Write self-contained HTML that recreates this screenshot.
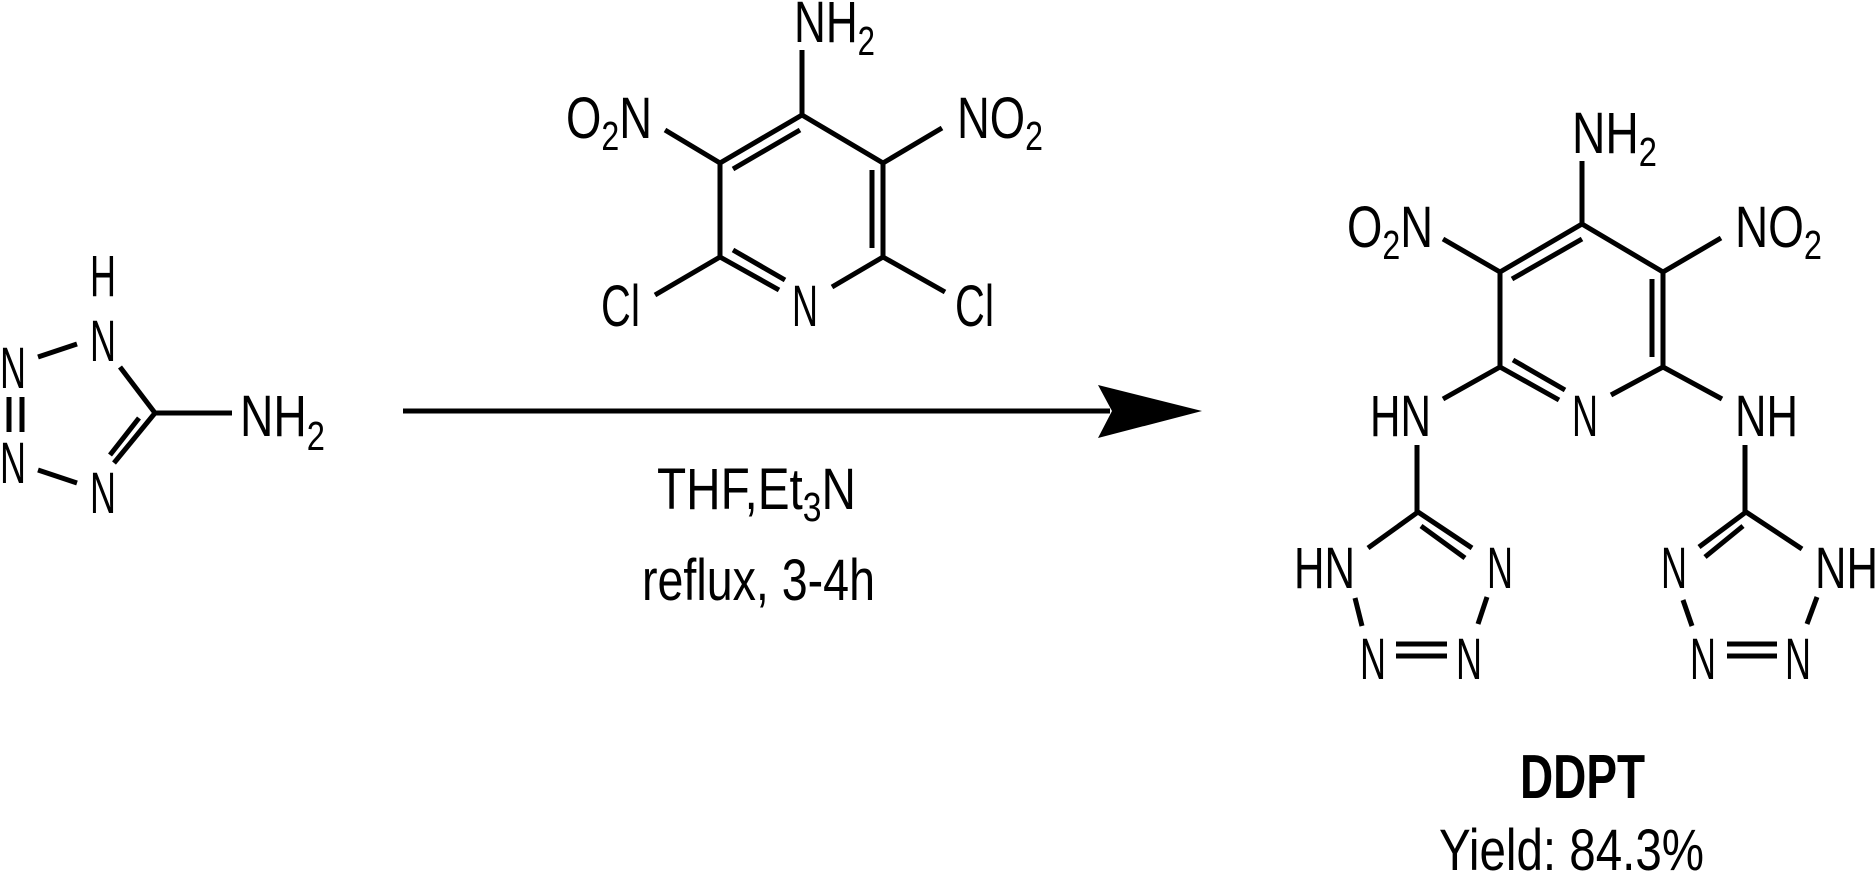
<!DOCTYPE html>
<html><head><meta charset="utf-8"><style>
html,body{margin:0;padding:0;background:#fff;}
svg{display:block;}
text{font-family:"Liberation Sans",Arial,sans-serif;font-size:58px;fill:#000;}
.s{font-size:41px;}
</style></head><body>
<svg width="1875" height="874" viewBox="0 0 1875 874" xmlns="http://www.w3.org/2000/svg">
<g stroke="#000" stroke-width="5" fill="none" stroke-linecap="butt">
<line x1="120" y1="367" x2="155" y2="413"/>
<line x1="155" y1="413" x2="114" y2="463"/>
<line x1="139" y1="418" x2="110" y2="455"/>
<line x1="155" y1="413" x2="232" y2="413"/>
<line x1="38" y1="357" x2="77" y2="344"/>
<line x1="38" y1="470" x2="77" y2="483"/>
<line x1="9" y1="397" x2="9" y2="432"/>
<line x1="22" y1="397" x2="22" y2="432"/>
<line x1="403" y1="411" x2="1110" y2="411"/>
<line x1="802" y1="50" x2="802" y2="115"/>
<line x1="720" y1="163" x2="802" y2="115"/>
<line x1="733" y1="169" x2="800" y2="130"/>
<line x1="802" y1="115" x2="883" y2="163"/>
<line x1="720" y1="163" x2="720" y2="257"/>
<line x1="883" y1="163" x2="883" y2="257"/>
<line x1="872" y1="170" x2="872" y2="248"/>
<line x1="720" y1="257" x2="779" y2="290"/>
<line x1="733" y1="250" x2="785" y2="280"/>
<line x1="832" y1="287" x2="883" y2="257"/>
<line x1="720" y1="257" x2="655" y2="295"/>
<line x1="883" y1="257" x2="945" y2="292"/>
<line x1="720" y1="163" x2="665" y2="130"/>
<line x1="883" y1="163" x2="942" y2="128"/>
<line x1="1582" y1="161" x2="1582" y2="224"/>
<line x1="1500" y1="272" x2="1582" y2="224"/>
<line x1="1512" y1="279" x2="1582" y2="239"/>
<line x1="1582" y1="224" x2="1663" y2="272"/>
<line x1="1500" y1="272" x2="1500" y2="367"/>
<line x1="1663" y1="272" x2="1663" y2="367"/>
<line x1="1652" y1="279" x2="1652" y2="357"/>
<line x1="1500" y1="367" x2="1559" y2="400"/>
<line x1="1513" y1="360" x2="1565" y2="390"/>
<line x1="1611" y1="395" x2="1663" y2="367"/>
<line x1="1500" y1="367" x2="1443" y2="399"/>
<line x1="1663" y1="367" x2="1722" y2="399"/>
<line x1="1500" y1="272" x2="1443" y2="239"/>
<line x1="1663" y1="272" x2="1721" y2="238"/>
<line x1="1417" y1="445" x2="1417" y2="512"/>
<line x1="1745" y1="445" x2="1745" y2="512"/>
<line x1="1418" y1="512" x2="1368" y2="548"/>
<line x1="1418" y1="512" x2="1472" y2="548"/>
<line x1="1421" y1="526" x2="1465" y2="558"/>
<line x1="1355" y1="598" x2="1362" y2="626"/>
<line x1="1487" y1="597" x2="1478" y2="624"/>
<line x1="1396" y1="644" x2="1447" y2="644"/>
<line x1="1396" y1="656" x2="1447" y2="656"/>
<line x1="1746" y1="512" x2="1699" y2="547"/>
<line x1="1743" y1="526" x2="1705" y2="557"/>
<line x1="1746" y1="512" x2="1802" y2="549"/>
<line x1="1683" y1="600" x2="1692" y2="626"/>
<line x1="1817" y1="597" x2="1807" y2="624"/>
<line x1="1727" y1="644" x2="1777" y2="644"/>
<line x1="1727" y1="656" x2="1777" y2="656"/>
</g>
<polygon points="1098,385 1202,411 1098,438 1112,411" fill="#000"/>

<text x="103" y="296" text-anchor="middle" textLength="26" lengthAdjust="spacingAndGlyphs">H</text>
<text x="103" y="361" text-anchor="middle" textLength="26" lengthAdjust="spacingAndGlyphs">N</text>
<text x="13" y="388" text-anchor="middle" textLength="26" lengthAdjust="spacingAndGlyphs">N</text>
<text x="13" y="483" text-anchor="middle" textLength="26" lengthAdjust="spacingAndGlyphs">N</text>
<text x="103" y="513" text-anchor="middle" textLength="26" lengthAdjust="spacingAndGlyphs">N</text>
<text x="240" y="436" textLength="85" lengthAdjust="spacingAndGlyphs">NH<tspan class="s" dy="14">2</tspan></text>

<text x="794" y="42" textLength="81" lengthAdjust="spacingAndGlyphs">NH<tspan class="s" dy="13">2</tspan></text>
<text x="566" y="138" textLength="86" lengthAdjust="spacingAndGlyphs">O<tspan class="s" dy="12">2</tspan><tspan dy="-12">N</tspan></text>
<text x="957" y="138" textLength="86" lengthAdjust="spacingAndGlyphs">NO<tspan class="s" dy="12">2</tspan></text>
<text x="601" y="326" textLength="39" lengthAdjust="spacingAndGlyphs">Cl</text>
<text x="805" y="326" text-anchor="middle" textLength="26" lengthAdjust="spacingAndGlyphs">N</text>
<text x="955" y="326" textLength="39" lengthAdjust="spacingAndGlyphs">Cl</text>

<text x="657" y="509" textLength="199" lengthAdjust="spacingAndGlyphs">THF,Et<tspan class="s" dy="12">3</tspan><tspan dy="-12">N</tspan></text>
<text x="642" y="600" textLength="233" lengthAdjust="spacingAndGlyphs">reflux, 3-4h</text>

<text x="1572" y="153" textLength="85" lengthAdjust="spacingAndGlyphs">NH<tspan class="s" dy="13">2</tspan></text>
<text x="1347" y="247" textLength="86" lengthAdjust="spacingAndGlyphs">O<tspan class="s" dy="12">2</tspan><tspan dy="-12">N</tspan></text>
<text x="1735" y="247" textLength="87" lengthAdjust="spacingAndGlyphs">NO<tspan class="s" dy="12">2</tspan></text>
<text x="1370" y="436" textLength="61" lengthAdjust="spacingAndGlyphs">HN</text>
<text x="1585" y="436" text-anchor="middle" textLength="26" lengthAdjust="spacingAndGlyphs">N</text>
<text x="1735" y="436" textLength="63" lengthAdjust="spacingAndGlyphs">NH</text>

<text x="1294" y="588" textLength="61" lengthAdjust="spacingAndGlyphs">HN</text>
<text x="1500" y="588" text-anchor="middle" textLength="26" lengthAdjust="spacingAndGlyphs">N</text>
<text x="1373" y="679" text-anchor="middle" textLength="26" lengthAdjust="spacingAndGlyphs">N</text>
<text x="1469" y="679" text-anchor="middle" textLength="26" lengthAdjust="spacingAndGlyphs">N</text>

<text x="1674" y="588" text-anchor="middle" textLength="26" lengthAdjust="spacingAndGlyphs">N</text>
<text x="1815" y="588" textLength="63" lengthAdjust="spacingAndGlyphs">NH</text>
<text x="1703" y="679" text-anchor="middle" textLength="26" lengthAdjust="spacingAndGlyphs">N</text>
<text x="1798" y="679" text-anchor="middle" textLength="26" lengthAdjust="spacingAndGlyphs">N</text>

<text x="1520" y="798" textLength="125" lengthAdjust="spacingAndGlyphs" style="font-weight:bold;font-size:62px">DDPT</text>
<text x="1439" y="870" textLength="265" lengthAdjust="spacingAndGlyphs">Yield: 84.3%</text>
</svg>
</body></html>
